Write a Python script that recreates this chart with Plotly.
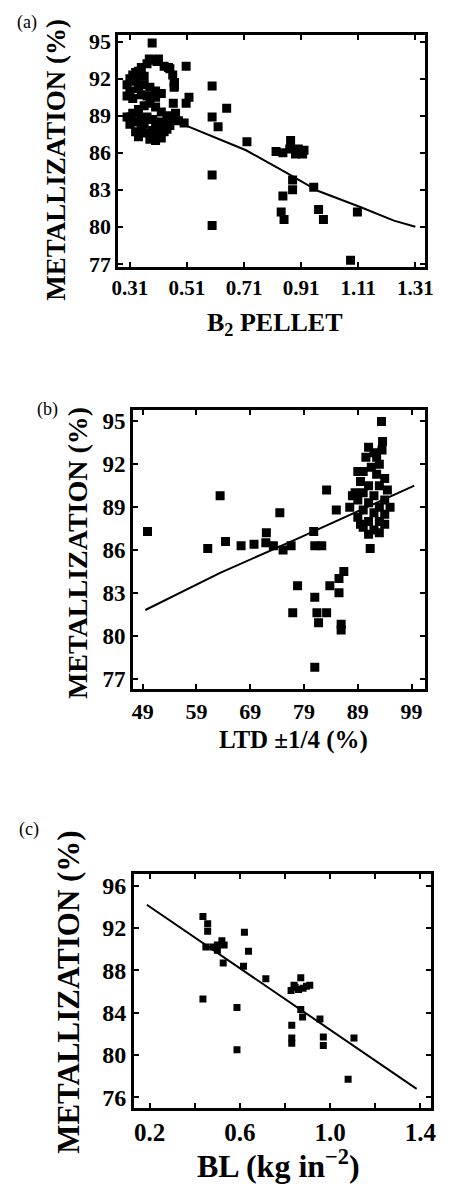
import plotly.graph_objects as go

W, H = 456, 1202

# ---------------- Panel (a) data ----------------
a_x = [0.388, 0.378, 0.405, 0.445, 0.507, 0.466, 0.466, 0.517, 0.507, 0.462, 0.313,
       0.31, 0.33, 0.35, 0.37, 0.39, 0.41, 0.43, 0.45, 0.46, 0.465, 0.465,
       0.30, 0.31, 0.30, 0.32, 0.34, 0.36, 0.38, 0.40, 0.42, 0.33, 0.35, 0.37, 0.40,
       0.32, 0.34, 0.36,
       0.30, 0.32, 0.34, 0.36, 0.38, 0.40, 0.42, 0.44, 0.46, 0.48, 0.50, 0.47,
       0.33, 0.35, 0.37, 0.39, 0.41, 0.43, 0.45,
       0.33, 0.35, 0.37, 0.39, 0.41, 0.43, 0.34, 0.38, 0.40, 0.42, 0.36, 0.40, 0.44, 0.31,
       0.598, 0.649, 0.598, 0.619, 0.72, 0.598, 0.598,
       0.822, 0.846, 0.873, 0.87, 0.90, 0.92, 0.89, 0.915,
       0.88, 0.88, 0.846, 0.84, 0.85, 0.954, 0.971, 0.988, 1.107, 1.083]
a_y = [94.9, 93.6, 93.4, 92.9, 93.0, 91.7, 91.4, 90.5, 90.0, 90.0, 88.9,
       92.0, 92.5, 92.9, 93.2, 93.5, 93.6, 93.0, 92.8, 92.3, 91.7, 91.3,
       91.5, 91.0, 90.6, 90.4, 91.2, 91.5, 91.3, 91.0, 90.8, 91.8, 90.7, 90.6, 90.5,
       92.3, 92.6, 92.2,
       88.9, 89.2, 89.5, 89.8, 90.0, 89.7, 89.3, 89.0, 88.8, 88.6, 88.4, 89.2,
       88.5, 88.8, 88.9, 88.7, 88.5, 88.3, 88.2,
       87.7, 87.9, 87.6, 87.8, 87.5, 87.7, 87.3, 87.1, 87.0, 87.2, 88.3, 88.1, 87.9, 88.3,
       91.4, 89.6, 88.9, 88.1, 86.9, 84.2, 80.1,
       86.1, 86.0, 87.0, 86.3, 86.3, 86.2, 85.9, 85.9,
       83.8, 83.0, 82.5, 81.2, 80.6, 83.2, 81.4, 80.6, 81.2, 77.3]
a_line_x = [0.507, 0.717, 0.856, 0.97, 1.117, 1.235, 1.31]
a_line_y = [88.2, 86.2, 84.4, 82.9, 81.6, 80.5, 80.0]
a_xticks = [0.31, 0.51, 0.71, 0.91, 1.11, 1.31]
a_yticks = [77, 80, 83, 86, 89, 92, 95]

# ---------------- Panel (b) data ----------------
b_x = [49.9, 61.1, 63.4, 64.4, 67.3, 69.7, 72.0, 71.9, 73.3, 75.1, 74.5, 76.6,
       77.8, 76.9, 80.8, 81.0, 82.3, 81.0, 81.4, 81.7, 83.2, 83.2, 83.8, 85.0,
       85.5, 85.5, 86.4, 85.9, 85.9, 81.0, 91.3, 93.4, 93.6,
       93.5, 92.0, 90.5, 93.0, 91.5, 90.0, 92.5, 94.0, 89.5, 91.0, 93.0, 94.5,
       88.5, 90.0, 92.0, 94.0, 95.0, 89.0, 91.0, 93.0, 87.5, 90.0, 92.0, 94.0,
       89.0, 91.0, 93.0, 90.0, 92.0, 94.0, 91.0, 93.0, 89.5, 92.5, 91.0, 89.0, 88.0]
b_y = [87.3, 86.1, 89.8, 86.6, 86.3, 86.4, 87.2, 86.5, 86.3, 86.0, 88.6, 86.3,
       83.5, 81.6, 87.3, 86.3, 86.3, 82.7, 81.6, 80.9, 81.6, 90.2, 83.5, 88.8,
       83.0, 84.0, 84.5, 80.8, 80.4, 77.8, 86.1, 95.0, 93.6,
       93.0, 92.8, 92.5, 92.0, 91.8, 91.5, 91.3, 91.0, 90.8, 90.5, 90.5, 90.2,
       90.0, 90.0, 89.8, 89.5, 89.0, 89.5, 89.3, 89.0, 89.0, 88.8, 88.6, 88.5,
       88.3, 88.0, 88.0, 87.6, 87.4, 87.8, 87.1, 87.2, 87.8, 92.5, 93.2, 91.5, 89.8]
b_line_x = [49.5, 63.4, 77.8, 87.3, 99.5]
b_line_y = [81.8, 84.4, 86.8, 88.4, 90.5]
b_xticks = [49, 59, 69, 79, 89, 99]
b_yticks = [77, 80, 83, 86, 89, 92, 95]

# ---------------- Panel (c) data ----------------
c_x = [0.436, 0.457, 0.457, 0.449, 0.48, 0.50, 0.50, 0.52, 0.53, 0.526, 0.436,
       0.62, 0.638, 0.616, 0.587, 0.587, 0.715,
       0.827, 0.845, 0.87, 0.88, 0.895, 0.91, 0.84, 0.86,
       0.87, 0.878, 0.83, 0.83, 0.83, 0.955, 0.97, 0.97, 1.106, 1.08]
c_y = [93.1, 92.4, 91.7, 90.2, 90.2, 90.4, 89.9, 90.8, 90.4, 88.7, 85.3,
       91.6, 89.8, 88.4, 84.5, 80.5, 87.2,
       86.1, 86.4, 87.3, 86.3, 86.5, 86.6, 86.6, 86.2,
       84.3, 83.6, 82.8, 81.6, 81.1, 83.4, 81.7, 80.9, 81.6, 77.7]
c_line_x = [0.187, 1.384]
c_line_y = [94.2, 76.8]
c_xticks = [0.2, 0.4, 0.6, 0.8, 1.0, 1.2, 1.4]
c_xticklabels = ["0.2", "", "0.6", "", "1.0", "", "1.4"]
c_yticks = [76, 80, 84, 88, 92, 96]

SERIF = "Liberation Serif, Times New Roman, serif"
OFF = 8  # page body margin offset

fig = go.Figure()

def add_panel(idx, xs, ys, lx, ly, msize):
    xa = "x" if idx == 1 else f"x{idx}"
    ya = "y" if idx == 1 else f"y{idx}"
    fig.add_trace(go.Scatter(x=xs, y=ys, mode="markers", xaxis=xa, yaxis=ya,
                             marker=dict(symbol="square", size=msize, color="black",
                                         line=dict(width=0)),
                             showlegend=False, hoverinfo="skip"))
    fig.add_trace(go.Scatter(x=lx, y=ly, mode="lines", xaxis=xa, yaxis=ya,
                             line=dict(color="black", width=2),
                             showlegend=False, hoverinfo="skip"))

add_panel(1, a_x, a_y, a_line_x, a_line_y, 9)
add_panel(2, b_x, b_y, b_line_x, b_line_y, 9)
add_panel(3, c_x, c_y, c_line_x, c_line_y, 7)

def px(v):
    return (v - OFF) / W

def py(v):
    return 1 - (v - OFF) / H

def axis(domain, rng, tickvals, ticktext=None, anchor=None, fsize=17):
    d = dict(domain=domain, range=rng, tickvals=tickvals, ticks="inside", ticklen=5,
             tickwidth=2, tickcolor="black", showline=True, linewidth=3, linecolor="black",
             mirror="allticks", showgrid=False, zeroline=False, anchor=anchor,
             tickfont=dict(family=SERIF, size=fsize, color="black", weight="bold"))
    if ticktext is not None:
        d["ticktext"] = ticktext
    return d

fig.update_layout(
    width=W, height=H, margin=dict(l=0, r=0, t=0, b=0),
    paper_bgcolor="white", plot_bgcolor="white",
    xaxis=axis([px(115), px(432)], [0.27, 1.344], a_xticks, [f"{v:.2f}" for v in a_xticks], "y", 21),
    yaxis=axis([py(265), py(30)], [76.76, 95.56], a_yticks, None, "x", 22),
    xaxis2=axis([px(130), px(432)], [47.2, 101.5], b_xticks, None, "y2", 22),
    yaxis2=axis([py(693), py(410)], [76.24, 95.8], b_yticks, None, "x2", 23),
    xaxis3=axis([px(131), px(438)], [0.13, 1.447], c_xticks, c_xticklabels, "y3", 25),
    yaxis3=axis([py(1117), py(880)], [74.97, 97.1], c_yticks, None, "x3", 24),
)

def ann(text, x, y, size, angle=0, bold=True):
    fig.add_annotation(text=text, x=px(x), y=py(y), xref="paper", yref="paper",
                       showarrow=False, textangle=angle, xanchor="center", yanchor="middle",
                       font=dict(family=SERIF, size=size, color="black",
                                 weight="bold" if bold else "normal"))

# panel labels
ann("(a)", 20, 18, 18, bold=False)
ann("(b)", 42, 410, 18, bold=False)
ann("(c)", 22, 835, 18, bold=False)

# y titles
ann("METALLIZATION (%)", 51, 157, 27, angle=-90)
ann("METALLIZATION (%)", 72, 555, 28, angle=-90)
ann("METALLIZATION (%)", 63, 999, 31, angle=-90)

# x titles
ann("B<sub>2</sub> PELLET", 277, 323, 26)
ann("LTD ±1/4 (%)", 296, 744, 25)
ann("BL (kg in<sup>−2</sup>)", 280, 1174, 32)

fig.write_html("out.html")
